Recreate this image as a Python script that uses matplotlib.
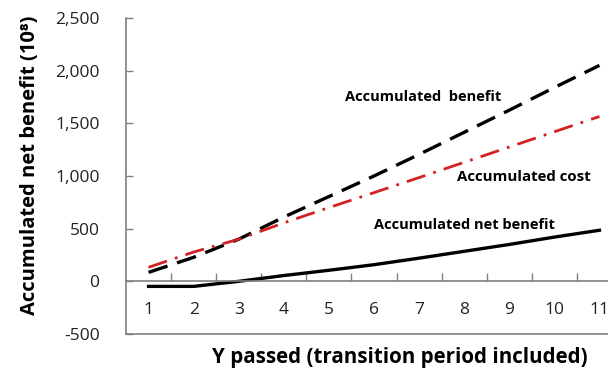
import matplotlib
matplotlib.use('Agg')
import matplotlib.pyplot as plt
import numpy as np

plt.rcParams['font.family'] = ['Open Sans', 'DejaVu Sans']

years = [1, 2, 3, 4, 5, 6, 7, 8, 9, 10, 11]
benefit = [85, 228, 400, 610, 805, 1000, 1205, 1415, 1625, 1840, 2050]
cost = [133, 278, 400, 555, 700, 842, 985, 1130, 1275, 1420, 1565]
net_benefit = [-48, -48, 0, 55, 105, 158, 220, 285, 350, 420, 485]
yticks = [-500, 0, 500, 1000, 1500, 2000, 2500]

fig = plt.figure(figsize=(6.08, 3.73), dpi=100)
ax = fig.add_axes([126 / 608, 1 - 334 / 373, 496 / 608, 316 / 373])

ax.plot(years, benefit, color='black', lw=2.4, dashes=(6, 3))
ax.plot(years, cost, color='#d42020', lw=2.0, dashes=(7, 3, 1, 3))
ax.plot(years, net_benefit, color='black', lw=2.4)

ax.set_xlim(0.5, 11.5)
ax.set_ylim(-500, 2500)

# spines: left + zero line, box line at -500
ax.spines['top'].set_visible(False)
ax.spines['right'].set_visible(False)
ax.spines['bottom'].set_position(('data', 0))
for s in ['left', 'bottom']:
    ax.spines[s].set_color('#7f7f7f')
    ax.spines[s].set_linewidth(1.2)
ax.plot([0, 1], [0, 0], transform=ax.transAxes, color='#7f7f7f', lw=1.2, clip_on=False)

ax.set_yticks(yticks)
ax.set_yticklabels([f'{v:,}' for v in yticks])
ax.tick_params(axis='y', direction='in', length=5, width=1, color='#7f7f7f',
               pad=19, labelsize=12.5, labelcolor='#222222')

ax.set_xticks(years)
ax.set_xticks(np.arange(1.5, 11, 1), minor=True)
ax.tick_params(axis='x', which='major', length=0, pad=15, labelsize=12.5, labelcolor='#222222')
ax.tick_params(axis='x', which='minor', direction='in', length=6, width=1, color='#7f7f7f')

ax.set_ylabel('Accumulated net benefit (10⁸)', fontsize=14.5, fontweight='bold', va='center')
ax.yaxis.set_label_coords(-0.194, 0.533)
ax.set_xlabel('Y passed (transition period included)', fontsize=14.8, fontweight='bold', va='center')
ax.xaxis.set_label_coords(0.552, -0.073)

ax.text(7.08, 1750, 'Accumulated  benefit', ha='center', va='center', fontsize=10.5, fontweight='bold')
ax.text(9.32, 990, 'Accumulated cost', ha='center', va='center', fontsize=10.8, fontweight='bold')
ax.text(8.0, 535, 'Accumulated net benefit', ha='center', va='center', fontsize=10.5, fontweight='bold')

fig.savefig('out.png', dpi=100)
